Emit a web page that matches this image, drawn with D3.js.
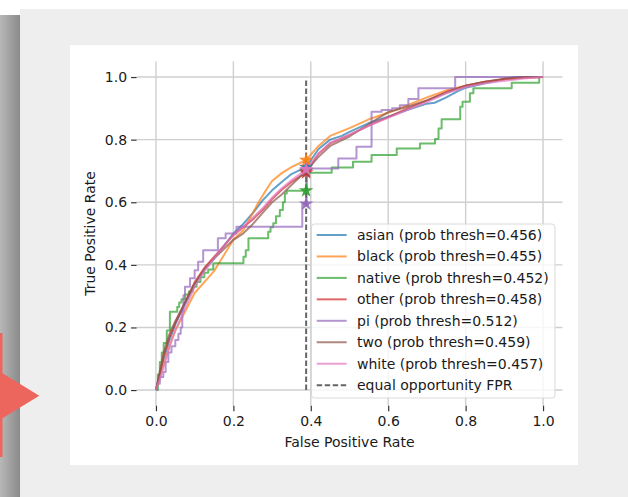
<!DOCTYPE html>
<html>
<head>
<meta charset="utf-8">
<script src="https://cdn.jsdelivr.net/npm/d3@7"></script>
<style>
  body { margin: 0; background: #fff; }
  svg { display: block; font-family: "DejaVu Sans", sans-serif; }
</style>
</head>
<body>
<svg id="chart" width="628" height="497"></svg>
<script>
// ── Data ──────────────────────────────────────────────────────────────────
const groups     = ['asian', 'black', 'native', 'other', 'pi', 'two', 'white'];
const thresholds = ['0.456', '0.455', '0.452', '0.458', '0.512', '0.459', '0.457'];
const colors     = ['#1f77b4', '#ff7f0e', '#2ca02c', '#d62728', '#9467bd', '#8c564b', '#e377c2'];
const stepped    = [false, false, true, false, true, false, false];

const eqFpr  = 0.388;
const eqTpr  = [0.712, 0.735, 0.637, 0.695, 0.595, 0.70, 0.705];

const xTicks = [0, 0.2, 0.4, 0.6, 0.8, 1.0];
const yTicks = [0, 0.2, 0.4, 0.6, 0.8, 1.0];

const asianRoc = [[0,0],[0.01,0.05],[0.02,0.1],[0.035,0.16],[0.05,0.21],[0.075,0.275],[0.1,0.335],
  [0.125,0.385],[0.15,0.42],[0.175,0.46],[0.2,0.5],[0.225,0.53],[0.25,0.565],[0.275,0.605],[0.3,0.638],
  [0.325,0.665],[0.35,0.69],[0.388,0.712],[0.42,0.77],[0.45,0.8],[0.48,0.812],[0.5,0.825],[0.55,0.853],
  [0.6,0.873],[0.65,0.895],[0.7,0.915],[0.72,0.918],[0.75,0.935],[0.78,0.955],[0.8,0.966],[0.85,0.98],
  [0.9,0.994],[0.93,1],[1,1]];
const blackRoc = [[0,0],[0.01,0.04],[0.02,0.08],[0.035,0.14],[0.05,0.19],[0.075,0.25],[0.1,0.31],
  [0.125,0.345],[0.15,0.38],[0.175,0.43],[0.2,0.48],[0.225,0.51],[0.25,0.565],[0.265,0.6],[0.285,0.64],
  [0.3,0.668],[0.325,0.693],[0.35,0.712],[0.388,0.735],[0.42,0.78],[0.45,0.812],[0.5,0.837],[0.55,0.865],
  [0.6,0.886],[0.65,0.91],[0.7,0.935],[0.75,0.957],[0.8,0.972],[0.85,0.984],[0.9,0.993],[0.95,0.998],[1,1]];
const nativeRoc = [[0,0],[0.005,0.05],[0.01,0.09],[0.015,0.12],[0.02,0.15],[0.028,0.19],[0.036,0.25],
  [0.055,0.265],[0.06,0.28],[0.066,0.29],[0.075,0.305],[0.085,0.315],[0.095,0.33],[0.105,0.345],
  [0.115,0.36],[0.125,0.375],[0.135,0.385],[0.148,0.405],[0.226,0.426],[0.232,0.447],[0.239,0.485],
  [0.29,0.506],[0.296,0.52],[0.303,0.533],[0.31,0.555],[0.32,0.575],[0.328,0.6],[0.333,0.628],
  [0.338,0.637],[0.389,0.694],[0.454,0.711],[0.509,0.729],[0.557,0.751],[0.622,0.772],[0.682,0.788],
  [0.721,0.802],[0.73,0.836],[0.738,0.865],[0.786,0.905],[0.792,0.921],[0.811,0.948],[0.82,0.964],
  [0.919,0.982],[0.99,1.0],[1,1]];
const otherRoc = [[0,0],[0.01,0.05],[0.02,0.11],[0.035,0.17],[0.05,0.215],[0.075,0.28],[0.1,0.345],
  [0.125,0.39],[0.15,0.425],[0.175,0.46],[0.2,0.495],[0.225,0.52],[0.25,0.545],[0.275,0.575],[0.3,0.61],
  [0.325,0.64],[0.35,0.665],[0.388,0.695],[0.42,0.755],[0.45,0.788],[0.5,0.815],[0.55,0.845],[0.6,0.872],
  [0.65,0.9],[0.7,0.925],[0.75,0.952],[0.8,0.972],[0.85,0.985],[0.9,0.993],[0.95,0.998],[1,1]];
const piRoc = [[0,0],[0.003,0.02],[0.01,0.042],[0.019,0.058],[0.025,0.09],[0.032,0.12],[0.04,0.14],
  [0.05,0.16],[0.058,0.18],[0.064,0.2],[0.068,0.25],[0.071,0.303],[0.075,0.33],[0.088,0.357],[0.1,0.383],
  [0.109,0.41],[0.122,0.447],[0.16,0.485],[0.18,0.5],[0.208,0.522],[0.378,0.595],[0.389,0.708],
  [0.471,0.74],[0.518,0.777],[0.557,0.889],[0.583,0.895],[0.61,0.9],[0.63,0.91],[0.652,0.93],
  [0.678,0.964],[0.773,1],[1,1]];
const twoRoc = [[0,0],[0.01,0.06],[0.02,0.12],[0.035,0.18],[0.05,0.22],[0.075,0.28],[0.1,0.34],
  [0.125,0.385],[0.15,0.42],[0.175,0.45],[0.2,0.48],[0.225,0.5],[0.25,0.53],[0.275,0.565],[0.3,0.6],
  [0.325,0.625],[0.35,0.655],[0.388,0.7],[0.42,0.745],[0.45,0.78],[0.5,0.81],[0.55,0.85],[0.6,0.888],
  [0.65,0.905],[0.7,0.925],[0.75,0.95],[0.8,0.972],[0.85,0.985],[0.9,0.995],[0.95,1],[1,1]];
const whiteRoc = [[0,0],[0.01,0.035],[0.02,0.075],[0.035,0.14],[0.05,0.19],[0.075,0.26],[0.1,0.33],
  [0.125,0.38],[0.15,0.42],[0.175,0.46],[0.2,0.495],[0.225,0.52],[0.25,0.55],[0.275,0.58],[0.3,0.615],
  [0.325,0.645],[0.35,0.67],[0.388,0.705],[0.42,0.755],[0.45,0.79],[0.5,0.815],[0.55,0.845],[0.6,0.87],
  [0.65,0.895],[0.7,0.92],[0.75,0.948],[0.8,0.968],[0.85,0.98],[0.9,0.988],[0.95,0.995],[1,1]];

const curves = [asianRoc, blackRoc, nativeRoc, otherRoc, piRoc, twoRoc, whiteRoc];

// ── Page frame (screenshot surroundings) ───────────────────────────────────
const svg = d3.select('#chart');
const defs = svg.append('defs');
const grad = defs.append('linearGradient').attr('id', 'band').attr('x1', 0).attr('x2', 1);
grad.append('stop').attr('offset', 0).attr('stop-color', '#b8b8b8');
grad.append('stop').attr('offset', 1).attr('stop-color', '#8a8a8a');

svg.append('rect').attr('x', 20).attr('y', 9).attr('width', 608).attr('height', 488).attr('fill', '#eeeeee');
svg.append('rect').attr('x', 0).attr('y', 15).attr('width', 20).attr('height', 482).attr('fill', 'url(#band)');
svg.append('rect').attr('x', 70).attr('y', 45).attr('width', 508).attr('height', 420).attr('fill', '#ffffff');

// red arrow on the left edge
svg.append('rect').attr('x', 0).attr('y', 333).attr('width', 2.5).attr('height', 124).attr('fill', '#ec665e');
svg.append('path').attr('d', 'M0,371.7L39.3,395.7L0,419.7Z').attr('fill', '#ec665e');

// ── Scales ────────────────────────────────────────────────────────────────
const x = d3.scaleLinear().domain([-0.05, 1.05]).range([136.6, 562.4]);
const y = d3.scaleLinear().domain([-0.05, 1.05]).range([405.7, 61.4]);

// grid
const grid = svg.append('g');
grid.selectAll('.gx').data(xTicks).join('line')
  .attr('x1', d => x(d)).attr('x2', d => x(d)).attr('y1', y(1.05)).attr('y2', y(-0.05))
  .attr('stroke', '#cfcfcf').attr('stroke-width', 1.4);
grid.selectAll('.gy').data(yTicks).join('line')
  .attr('y1', d => y(d)).attr('y2', d => y(d)).attr('x1', x(-0.05)).attr('x2', x(1.05))
  .attr('stroke', '#cfcfcf').attr('stroke-width', 1.4);

// axes
const fmt = d3.format('.1f');
const xAxis = svg.append('g').attr('transform', `translate(0,${y(-0.05)})`)
  .call(d3.axisBottom(x).tickValues(xTicks).tickFormat(fmt).tickSize(5.5).tickPadding(5));
const yAxis = svg.append('g').attr('transform', `translate(${x(-0.05)},0)`)
  .call(d3.axisLeft(y).tickValues(yTicks).tickFormat(fmt).tickSize(5.5).tickPadding(4));
[xAxis, yAxis].forEach(a => {
  a.select('.domain').remove();
  a.selectAll('line').attr('stroke', '#333').attr('stroke-width', 1.2);
  a.selectAll('text').attr('fill', '#1a1a1a').style('font-size', '14px')
    .style('font-family', '"DejaVu Sans", sans-serif');
});

svg.append('text').attr('x', 349.5).attr('y', 447).attr('text-anchor', 'middle')
  .attr('fill', '#1a1a1a').style('font-size', '14px').text('False Positive Rate');
svg.append('text').attr('transform', 'translate(95,233.5) rotate(-90)').attr('text-anchor', 'middle')
  .attr('fill', '#1a1a1a').style('font-size', '14px').text('True Positive Rate');

// ── ROC curves ────────────────────────────────────────────────────────────
const plot = svg.append('g');
curves.forEach((pts, i) => {
  const line = d3.line().x(d => x(d[0])).y(d => y(d[1]))
    .curve(stepped[i] ? d3.curveStepAfter : d3.curveLinear);
  plot.append('path').datum(pts).attr('d', line)
    .attr('fill', 'none').attr('stroke', colors[i]).attr('stroke-width', 2)
    .attr('stroke-opacity', 0.7).attr('stroke-linejoin', 'round');
});

// equal opportunity FPR
plot.append('line').attr('x1', x(eqFpr)).attr('x2', x(eqFpr)).attr('y1', y(0)).attr('y2', y(0.99))
  .attr('stroke', '#666').attr('stroke-width', 2).attr('stroke-dasharray', '5.5,2.5');

// stars
const star = d3.symbol().type(d3.symbolStar).size(65);
eqTpr.forEach((t, i) => {
  plot.append('path').attr('d', star)
    .attr('transform', `translate(${x(eqFpr)},${y(t)})`)
    .attr('fill', colors[i]).attr('opacity', 0.9);
});

// ── Legend ────────────────────────────────────────────────────────────────
const lg = svg.append('g');
lg.append('rect').attr('x', 311.5).attr('y', 224).attr('width', 243.5).attr('height', 174).attr('rx', 3)
  .attr('fill', '#fff').attr('fill-opacity', 0.8).attr('stroke', '#dadada').attr('stroke-width', 1);
const labels = groups.map((g, i) => `${g} (prob thresh=${thresholds[i]})`).concat(['equal opportunity FPR']);
labels.forEach((lab, i) => {
  const cy = 235 + i * 21.45;
  const ln = lg.append('line').attr('x1', 316.7).attr('x2', 346.7).attr('y1', cy).attr('y2', cy)
    .attr('stroke-width', 2);
  if (i < groups.length) ln.attr('stroke', colors[i]).attr('stroke-opacity', 0.7);
  else ln.attr('stroke', '#666').attr('stroke-dasharray', '5.5,2.5');
  lg.append('text').attr('x', 357).attr('y', cy).attr('dy', '0.35em')
    .attr('fill', '#1a1a1a').style('font-size', '14px').text(lab);
});
</script>
</body>
</html>
